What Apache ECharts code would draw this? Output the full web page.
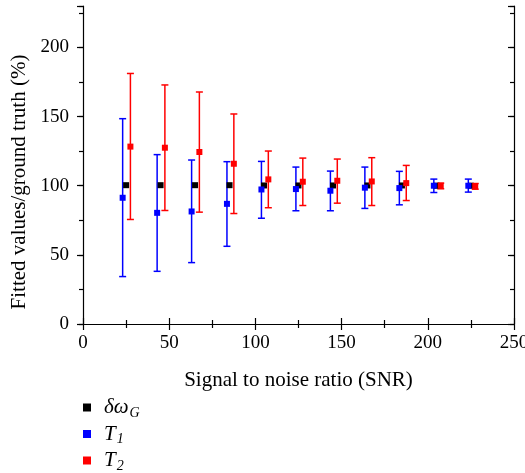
<!DOCTYPE html>
<html>
<head>
<meta charset="utf-8">
<script src="https://cdn.jsdelivr.net/npm/echarts@6/dist/echarts.min.js"></script>
<style>html,body{margin:0;padding:0;background:#fff}#c{width:525px;height:473px}</style>
</head>
<body>
<div id="c"></div>
<script>
// ---- data ----
var xTicks = [0, 50, 100, 150, 200, 250];
var yTicks = [0, 50, 100, 150, 200];
var gX  = [25, 45, 65, 85, 105, 125, 145, 165, 185, 205, 225];
var gVal = [100.4, 100.4, 100.4, 100.4, 100.2, 100.2, 100.2, 100.2, 100.2, 100.0, 100.0];
var t1X = [23, 43, 63, 83.5, 103.5, 123.5, 143.5, 163.5, 183.5, 203.5, 223.5];
var t1Val  = [91.3, 80.4, 81.4, 86.9, 97.3, 97.6, 96.4, 98.6, 98.3, 100.0, 100.0];
var t1High = [148.5, 122.5, 118.6, 117.4, 117.6, 113.5, 110.6, 113.5, 110.4, 104.8, 104.8];
var t1Low  = [34.3, 38.1, 44.4, 56.2, 76.5, 81.9, 81.9, 83.6, 86.2, 95.1, 95.4];
var t2X = [27.5, 47.5, 67.5, 87.5, 107.5, 127.5, 147.5, 167.5, 187.5, 207.5, 227.5];
var t2Val  = [128.3, 127.5, 124.4, 115.9, 104.6, 102.9, 103.6, 103.1, 101.9, 100.0, 99.8];
var t2High = [181.2, 172.9, 167.8, 151.9, 125.1, 120.0, 119.3, 120.3, 114.7, 101.9, 101.6];
var t2Low  = [75.6, 82.1, 80.9, 79.9, 84.1, 85.7, 87.4, 85.7, 89.3, 97.8, 97.5];
var seriesNames = ['δω_G', 'T_1', 'T_2'];
var colors = ['#000000', '#0000ff', '#ff0000'];

function pairs(xs, ys) { return xs.map(function (x, i) { return [x, ys[i]]; }); }
function bars(xs, lo, hi) { return xs.map(function (x, i) { return [x, lo[i], hi[i]]; }); }

function errRender(color) {
  return function (params, api) {
    var x = api.value(0);
    var pLo = api.coord([x, api.value(1)]);
    var pHi = api.coord([x, api.value(2)]);
    var hw = 3.5;
    var st = { stroke: color, lineWidth: 1.5, fill: null };
    return {
      type: 'group',
      children: [
        { type: 'line', shape: { x1: pLo[0], y1: pLo[1], x2: pHi[0], y2: pHi[1] }, style: st },
        { type: 'line', shape: { x1: pLo[0] - hw, y1: pLo[1], x2: pLo[0] + hw, y2: pLo[1] }, style: st },
        { type: 'line', shape: { x1: pHi[0] - hw, y1: pHi[1], x2: pHi[0] + hw, y2: pHi[1] }, style: st }
      ]
    };
  };
}

var FONT = '"Liberation Serif", "DejaVu Serif", serif';
var lineStyle = { color: '#000', width: 1.2 };
var YMAX = 230;

var chart = echarts.init(document.getElementById('c'), null, { renderer: 'canvas' });
chart.setOption({
  animation: false,
  backgroundColor: '#fff',
  grid: { left: 83, right: 11, top: 6, bottom: 149, containLabel: false, outerBoundsMode: 'none' },
  legend: {
    orient: 'vertical', left: 83, top: 395, height: 120, padding: 0,
    icon: 'rect', itemWidth: 8, itemHeight: 8, itemGap: 1.5,
    data: seriesNames,
    formatter: function (n) {
      var p = n.split('_');
      return '{i|' + p[0] + '}{s|' + p[1] + '}';
    },
    textStyle: {
      padding: [0, 0, 0, 8],
      rich: {
        i: { fontFamily: FONT, fontStyle: 'italic', fontSize: 21, color: '#000', lineHeight: 25 },
        s: { fontFamily: FONT, fontStyle: 'italic', fontSize: 14, color: '#000', padding: [11, 0, 0, 1], lineHeight: 14 }
      }
    }
  },
  xAxis: [
    {
      type: 'value', position: 'bottom', min: xTicks[0], max: xTicks[xTicks.length - 1], interval: 50,
      name: 'Signal to noise ratio (SNR)', nameLocation: 'middle', nameGap: 46,
      nameTextStyle: { fontFamily: FONT, fontSize: 21, color: '#000' },
      axisLine: { lineStyle: lineStyle },
      axisTick: { inside: true, length: 6, lineStyle: lineStyle },
      minorTick: { show: true, splitNumber: 2, length: 4, lineStyle: lineStyle },
      axisLabel: { fontFamily: FONT, fontSize: 19, color: '#000', margin: 10 },
      splitLine: { show: false }
    },
    {
      type: 'value', position: 'top', min: xTicks[0], max: xTicks[xTicks.length - 1], interval: 50,
      axisLine: { lineStyle: lineStyle },
      axisTick: { inside: true, length: 6, lineStyle: lineStyle },
      minorTick: { show: true, splitNumber: 2, length: 4, lineStyle: lineStyle },
      axisLabel: { show: false }, splitLine: { show: false }
    }
  ],
  yAxis: [
    {
      type: 'value', position: 'left', min: 0, max: YMAX, interval: 50,
      name: 'Fitted values/ground truth (%)', nameLocation: 'middle', nameGap: 53,
      nameTextStyle: { fontFamily: FONT, fontSize: 21, color: '#000', padding: [0, 34, 0, 0] },
      axisLine: { show: true, lineStyle: lineStyle },
      axisTick: { show: true, inside: false, length: 6, lineStyle: lineStyle },
      axisLabel: {
        fontFamily: FONT, fontSize: 19, color: '#000', margin: 14,
        formatter: function (v) { return yTicks.indexOf(v) >= 0 ? String(v) : ''; }
      },
      splitLine: { show: false }
    },
    {
      type: 'value', position: 'left', min: 0, max: YMAX, interval: 25,
      axisLine: { show: false },
      axisTick: { show: true, inside: false, length: 4, lineStyle: lineStyle },
      axisLabel: { show: false }, splitLine: { show: false }
    },
    {
      type: 'value', position: 'right', min: 0, max: YMAX, interval: 50,
      axisLine: { show: true, lineStyle: lineStyle },
      axisTick: { show: true, inside: true, length: 6, lineStyle: lineStyle },
      axisLabel: { show: false }, splitLine: { show: false }
    },
    {
      type: 'value', position: 'right', min: 0, max: YMAX, interval: 25,
      axisLine: { show: false },
      axisTick: { show: true, inside: true, length: 4, lineStyle: lineStyle },
      axisLabel: { show: false }, splitLine: { show: false }
    }
  ],
  series: [
    { type: 'custom', name: 'errT1', renderItem: errRender(colors[1]), data: bars(t1X, t1Low, t1High), z: 2, silent: true },
    { type: 'custom', name: 'errT2', renderItem: errRender(colors[2]), data: bars(t2X, t2Low, t2High), z: 2, silent: true },
    { type: 'scatter', name: seriesNames[0], symbol: 'rect', symbolSize: 6, itemStyle: { color: colors[0], opacity: 1 }, data: pairs(gX, gVal), z: 3 },
    { type: 'scatter', name: seriesNames[1], symbol: 'rect', symbolSize: 6, itemStyle: { color: colors[1], opacity: 1 }, data: pairs(t1X, t1Val), z: 4 },
    { type: 'scatter', name: seriesNames[2], symbol: 'rect', symbolSize: 6, itemStyle: { color: colors[2], opacity: 1 }, data: pairs(t2X, t2Val), z: 4 }
  ]
});
</script>
</body>
</html>
